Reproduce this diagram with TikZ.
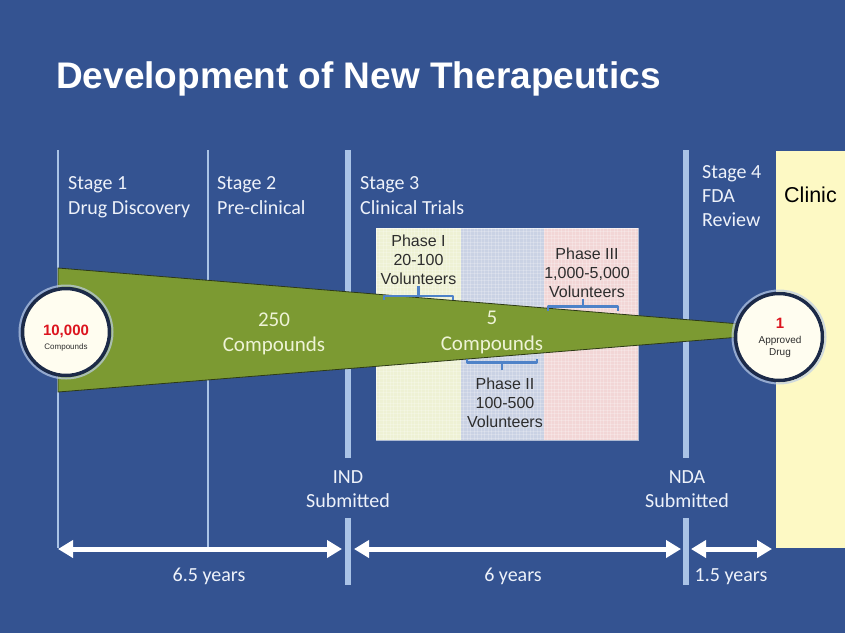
\documentclass[tikz,border=0pt]{standalone}
\usepackage{fontspec}
\setmainfont{Carlito}
\newfontfamily\arialfont{Liberation Sans}
\usetikzlibrary{arrows.meta}

\definecolor{bgblue}{RGB}{52,83,145}
\definecolor{rulecol}{RGB}{170,195,230}
\definecolor{labeltext}{RGB}{238,242,250}
\definecolor{funnelgreen}{RGB}{124,154,50}
\definecolor{funneledge}{RGB}{45,58,22}
\definecolor{funneltext}{RGB}{238,243,214}
\definecolor{phaseone}{RGB}{238,241,212}
\definecolor{phasetwo}{RGB}{202,210,228}
\definecolor{phasethree}{RGB}{242,214,214}
\definecolor{phasetext}{RGB}{45,45,45}
\definecolor{bracecol}{RGB}{78,130,200}
\definecolor{clinicyellow}{RGB}{253,249,196}
\definecolor{ringdark}{RGB}{28,42,72}
\definecolor{ringglow}{RGB}{190,206,232}
\definecolor{disccol}{RGB}{255,253,240}
\definecolor{countred}{RGB}{220,20,30}

\begin{document}
\begin{tikzpicture}[x=1pt,y=-1pt,
  % multi-line nodes are placed by the baseline of their last line
  stagetxt/.style={anchor=base west, inner sep=0, text=labeltext,
    font=\fontsize{20}{24.5}\selectfont, align=left},
  centretxt/.style={anchor=base, inner sep=0, text=labeltext,
    font=\fontsize{20}{24}\selectfont, align=center},
  funneltxt/.style={anchor=base, inner sep=0, text=funneltext,
    font=\fontsize{21}{25.5}\selectfont, align=center},
  phasetxt/.style={anchor=base, inner sep=0, text=phasetext,
    font=\arialfont\fontsize{16}{19}\selectfont, align=center},
  thinrule/.style={rulecol, line width=2.5pt},
  thickrule/.style={rulecol, line width=5.5pt},
  bracket/.style={bracecol, line width=2.6pt, line join=round},
  disc/.style={circle, fill=disccol, draw=ringdark, line width=3.5pt,
    minimum size=87pt, inner sep=0},
  glow/.style={ringglow, line width=2pt, opacity=.7},
  span/.style={white, line width=5pt,
    {Triangle[length=15pt,width=17pt]}-{Triangle[length=15pt,width=17pt]}},
  texture/.style={white, opacity=.22, line width=.4pt},
]
\useasboundingbox (0,0) rectangle (845,633);
\fill[bgblue] (0,0) rectangle (845,633);

% clinic panel on the right
\fill[clinicyellow] (776,151) rectangle (845,548);
\node[anchor=base west, inner sep=0, font=\arialfont\fontsize{21.5}{24}\selectfont]
  (clinic) at (784,202) {Clinic};

% title
\node[anchor=base west, inner sep=0, text=white,
  font=\arialfont\bfseries\fontsize{37}{40}\selectfont]
  (title) at (56,88) {Development of New Therapeutics};

% stage boundaries
\draw[thinrule] (58,150) -- (58,548);
\draw[thinrule] (208,150) -- (208,548);
\draw[thickrule] (348,150) -- (348,458);
\draw[thickrule] (348,518) -- (348,585);
\draw[thickrule] (686,150) -- (686,458);
\draw[thickrule] (686,518) -- (686,585);

% stage headings
\node[stagetxt] (stage1) at (68,214) {Stage 1\\Drug Discovery};
\node[stagetxt] (stage2) at (217,214) {Stage 2\\Pre-clinical};
\node[stagetxt] (stage3) at (360,214) {Stage 3\\Clinical Trials};
\node[stagetxt, font=\fontsize{20}{24}\selectfont] (stage4) at (702,226.5) {Stage 4\\FDA\\Review};

% clinical trial phases
\fill[phaseone] (376,228) rectangle (461,440);
\fill[phasetwo] (461,228) rectangle (544,440);
\fill[phasethree] (544,228) rectangle (638,440);
\foreach \gx in {379.5,383,...,636} \draw[texture] (\gx,228) -- (\gx,440);
\foreach \gy in {231.5,235,...,438} \draw[texture] (376,\gy) -- (638,\gy);
\draw[white, opacity=.6, line width=.8pt] (376,228) rectangle (638,440);

% compound funnel
\filldraw[fill=funnelgreen, draw=funneledge, line width=.8pt]
  (58,268) -- (740,324) -- (740,337) -- (58,392) -- cycle;

\node[funneltxt] (c250) at (274,351.5) {250\\Compounds};
\node[funneltxt] (c5) at (492,350) {5\\Compounds};

% phase labels and their brackets
\node[phasetxt] (ph1) at (418.5,284.5) {Phase I\\20-100\\Volunteers};
\node[phasetxt] (ph2) at (505,427.5) {Phase II\\100-500\\Volunteers};
\node[phasetxt] (ph3) at (587,297) {Phase III\\1,000-5,000\\Volunteers};
\draw[bracket] (384,300) -- (384,296) -- (453,296) -- (453,300)
  (418.5,296) -- (418.5,286);
\draw[bracket] (548,310.5) -- (548,306.5) -- (618,306.5) -- (618,310.5)
  (583,306.5) -- (583,298.5);
\draw[bracket] (467,358.5) -- (467,362.5) -- (537,362.5) -- (537,358.5)
  (502,362.5) -- (502,369.5);

% start and end counts
\node[disc] (start) at (66,332) {};
\draw[glow] (start.center) circle[radius=46.5];
\node[inner sep=0, text=countred, font=\arialfont\bfseries\fontsize{15}{17}\selectfont]
  (startnum) at (66,331) {10,000};
\node[inner sep=0, text=phasetext, font=\arialfont\fontsize{8}{9}\selectfont]
  (startlbl) at (66,347) {Compounds};

\node[disc] (finish) at (779,337) {};
\draw[glow] (finish.center) circle[radius=46.5];
\node[inner sep=0, text=countred, font=\arialfont\bfseries\fontsize{15}{16}\selectfont]
  (finishnum) at (780,323) {1};
\node[anchor=base, inner sep=0, text=phasetext, align=center,
  font=\arialfont\fontsize{10}{11.5}\selectfont]
  (finishlbl) at (780,355) {Approved\\Drug};

% submissions
\node[centretxt] (ind) at (348,507.5) {IND\\Submitted};
\node[centretxt] (nda) at (687,507.5) {NDA\\Submitted};

% durations
\coordinate (t0) at (58,549);
\coordinate (t1l) at (342,549);
\coordinate (t1r) at (354,549);
\coordinate (t2l) at (681,549);
\coordinate (t2r) at (691,549);
\coordinate (t3) at (772,549);
\draw[span] (t0) -- (t1l);
\draw[span] (t1r) -- (t2l);
\draw[span] (t2r) -- (t3);
\node[centretxt] (y1) at (209,581) {6.5 years};
\node[centretxt] (y2) at (513,581) {6 years};
\node[centretxt] (y3) at (731,581) {1.5 years};
\end{tikzpicture}
\end{document}
